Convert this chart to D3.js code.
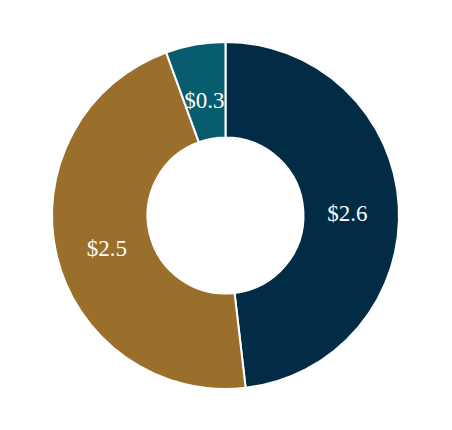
<!DOCTYPE html>
<html>
<head>
<meta charset="utf-8">
<script src="https://cdn.jsdelivr.net/npm/d3@7"></script>
<style>
  body { margin: 0; background: #fff; }
</style>
</head>
<body>
<svg id="chart" width="452" height="430"></svg>
<script>
var categories = ["A", "B", "C"];
var values = [2.6, 2.5, 0.3];
var labels = ["$2.6", "$2.5", "$0.3"];
var colors = ["#022b45", "#9a6e2b", "#075c6e"];

var svg = d3.select("#chart"),
	cx = 225.5, cy = 215.5,
	outer = 173.5, inner = 78;

var data = categories.map(function(c, i) {
	return {key: c, value: values[i], label: labels[i], color: colors[i]};
});

var pie = d3.pie()
	.sort(null)
	.value(function(d) { return d.value; });

var arc = d3.arc().innerRadius(inner).outerRadius(outer);
var labelArc = d3.arc().innerRadius(122).outerRadius(122);

var g = svg.append("g")
	.attr("transform", "translate(" + cx + "," + cy + ")");

var slices = g.selectAll(".slice")
	.data(pie(data))
  .enter().append("g")
	.attr("class", "slice");

slices.append("path")
	.attr("d", arc)
	.style("fill", function(d) { return d.data.color; })
	.style("stroke", "#fff")
	.style("stroke-width", 2);

slices.append("text")
	.attr("transform", function(d) { return "translate(" + labelArc.centroid(d) + ")"; })
	.attr("dy", "0.55em")
	.attr("text-anchor", "middle")
	.style("font-family", "'Liberation Serif', 'Times New Roman', serif")
	.style("font-size", "23px")
	.style("fill", "#fff")
	.text(function(d) { return d.data.label; });
</script>
</body>
</html>
